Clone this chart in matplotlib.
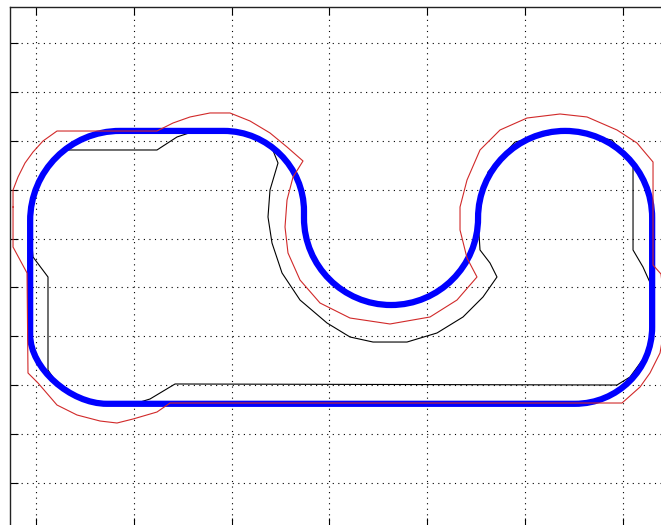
import matplotlib
matplotlib.use("Agg")
import matplotlib.pyplot as plt
from matplotlib.path import Path
from matplotlib.patches import PathPatch

### Track centre line (thick blue), vertices + path codes
### M = moveto, L = lineto, C = cubic bezier control/end point, Z = close
track_x = [17.2, 38.4, 47.4, 54.8, 54.8, 54.8, 54.8, 62.8, 72.6, 82.4, 90.4, 90.4,
           90.4, 98.4, 108.2, 118.0, 126.0, 126.0, 126.0, 126.0, 118.9, 110.2, 14.5,
           7.0, -1.2, -1.2, -1.2, -1.2, 7.0, 17.2, 17.2]
track_y = [72.0, 72.0, 72.0, 64.6, 55.6, 54.2, 44.4, 36.4, 36.4, 36.4, 44.4, 54.2,
           64.0, 72.0, 72.0, 72.0, 64.0, 54.2, 31.9, 23.2, 16.2, 16.2, 16.2,
           16.2, 23.5, 30.3, 53.6, 63.8, 72.0, 72.0, 72.0]
track_codes = "MLCCCLCCCCCCCCCCCCLCCCLCCCLCCCZ"

### Red boundary
red_x = [-4.70, -4.70, -3.68, -2.25, -0.61, 1.43, 4.29, 24.74, 28.02, 31.49, 35.58,
         39.67, 43.76, 47.85, 51.33, 54.60, 52.56, 51.33, 50.92, 51.53, 53.99, 58.08,
         64.21, 72.39, 80.57, 86.09, 90.18, 88.14, 86.71, 86.71, 88.14, 90.80, 94.89,
         100.41, 107.16, 112.68, 118.81, 122.90, 126.18, 126.18, 127.81, 128.43,
         128.43, 127.61, 125.56, 123.52, 119.84, 27.40, 24.74, 19.84, 16.56, 13.09,
         8.38, 4.29, 0.41, -1.64, -1.84, -4.70, -4.70]
red_y = [56.44, 59.92, 62.58, 65.44, 67.69, 69.94, 71.98, 71.98, 73.62, 74.85, 75.67,
         75.67, 74.03, 71.58, 68.71, 65.85, 62.58, 57.87, 52.35, 47.04, 41.51, 36.81,
         33.74, 32.52, 33.95, 37.42, 42.13, 46.01, 51.74, 56.44, 61.96, 68.10, 72.19,
         74.64, 75.46, 74.85, 72.19, 69.53, 65.64, 44.58, 42.74, 37.42,
         31.29, 26.59, 22.50, 19.63, 16.36, 16.36, 14.52, 13.09, 12.27, 12.68,
         13.91, 15.95, 20.45, 22.50, 42.95, 48.26, 56.44]

### Black boundary
black_x = [5.52, 24.74, 28.83, 32.52, 38.45, 44.79, 48.26, 49.49, 47.85, 47.44, 48.26,
           50.31, 53.99, 59.51, 64.21, 68.92, 75.87, 82.00, 87.32, 91.41, 94.27, 92.84,
           90.80, 90.39, 92.43, 97.96, 108.18, 117.79, 122.09, 122.09, 124.13, 125.97,
           125.97, 124.75, 121.47, 118.81, 28.43, 23.31, 20.65, 14.52, 8.59, 4.91,
           2.45, 2.45, -0.61, -1.02, -1.02, -0.20, 1.84, 5.52]
black_y = [68.10, 68.10, 70.76, 71.98, 71.98, 70.55, 68.51, 65.44, 59.92, 54.40, 49.08,
           42.95, 37.42, 32.72, 29.86, 28.83, 28.83, 30.68, 33.95, 38.04, 42.13, 44.99,
           47.65, 54.19, 63.60, 69.73, 71.98, 70.14, 64.83, 47.65, 44.17, 40.08,
           31.90, 26.18, 21.68, 20.04, 20.25, 17.18, 16.36, 16.16, 17.18, 19.43,
           23.11, 42.13, 46.22, 50.72, 54.81, 60.33, 64.42, 68.10]

x_ticks = [0, 20, 40, 60, 80, 100, 120]
y_ticks = [0, 10, 20, 30, 40, 50, 60, 70, 80, 90]

CODE_MAP = {"M": Path.MOVETO, "L": Path.LINETO, "C": Path.CURVE4, "Z": Path.CLOSEPOLY}


def track_path():
    verts = list(zip(track_x, track_y))
    codes = [CODE_MAP[c] for c in track_codes]
    return Path(verts, codes)


def plot():
    fig = plt.figure(figsize=(6.61, 5.25), dpi=100)
    fig.patch.set_facecolor("white")
    # axes run past the right and bottom edge of the picture (cropped figure)
    ax = fig.add_axes([10 / 661, -1 / 525, 662 / 661, 519 / 525])

    # black drawn first so the blue covers it where they coincide
    ax.plot(black_x, black_y, color="k", lw=0.8, zorder=2, solid_joinstyle="round")
    ax.add_patch(PathPatch(track_path(), facecolor="none", edgecolor=(0, 0, 1),
                           lw=4.5, joinstyle="round", capstyle="round", zorder=3))
    ax.plot(red_x, red_y, color=(0.82, 0.16, 0.16), lw=0.8, zorder=4,
            solid_joinstyle="round")

    ax.set_xlim(-5.32, 130.06)
    ax.set_ylim(-8.79, 97.34)
    ax.set_xticks(x_ticks)
    ax.set_yticks(y_ticks)
    ax.tick_params(direction="in", length=5.5, width=0.8, top=True, right=True,
                   labelbottom=False, labelleft=False)
    ax.grid(True, linestyle=(0, (1, 4)), color="k", linewidth=0.8)
    ax.set_axisbelow(True)
    for s in ax.spines.values():
        s.set_color("#222222")
        s.set_linewidth(1.0)

    fig.savefig("out.png", dpi=100, facecolor="white")


if __name__ == "__main__":
    plot()
